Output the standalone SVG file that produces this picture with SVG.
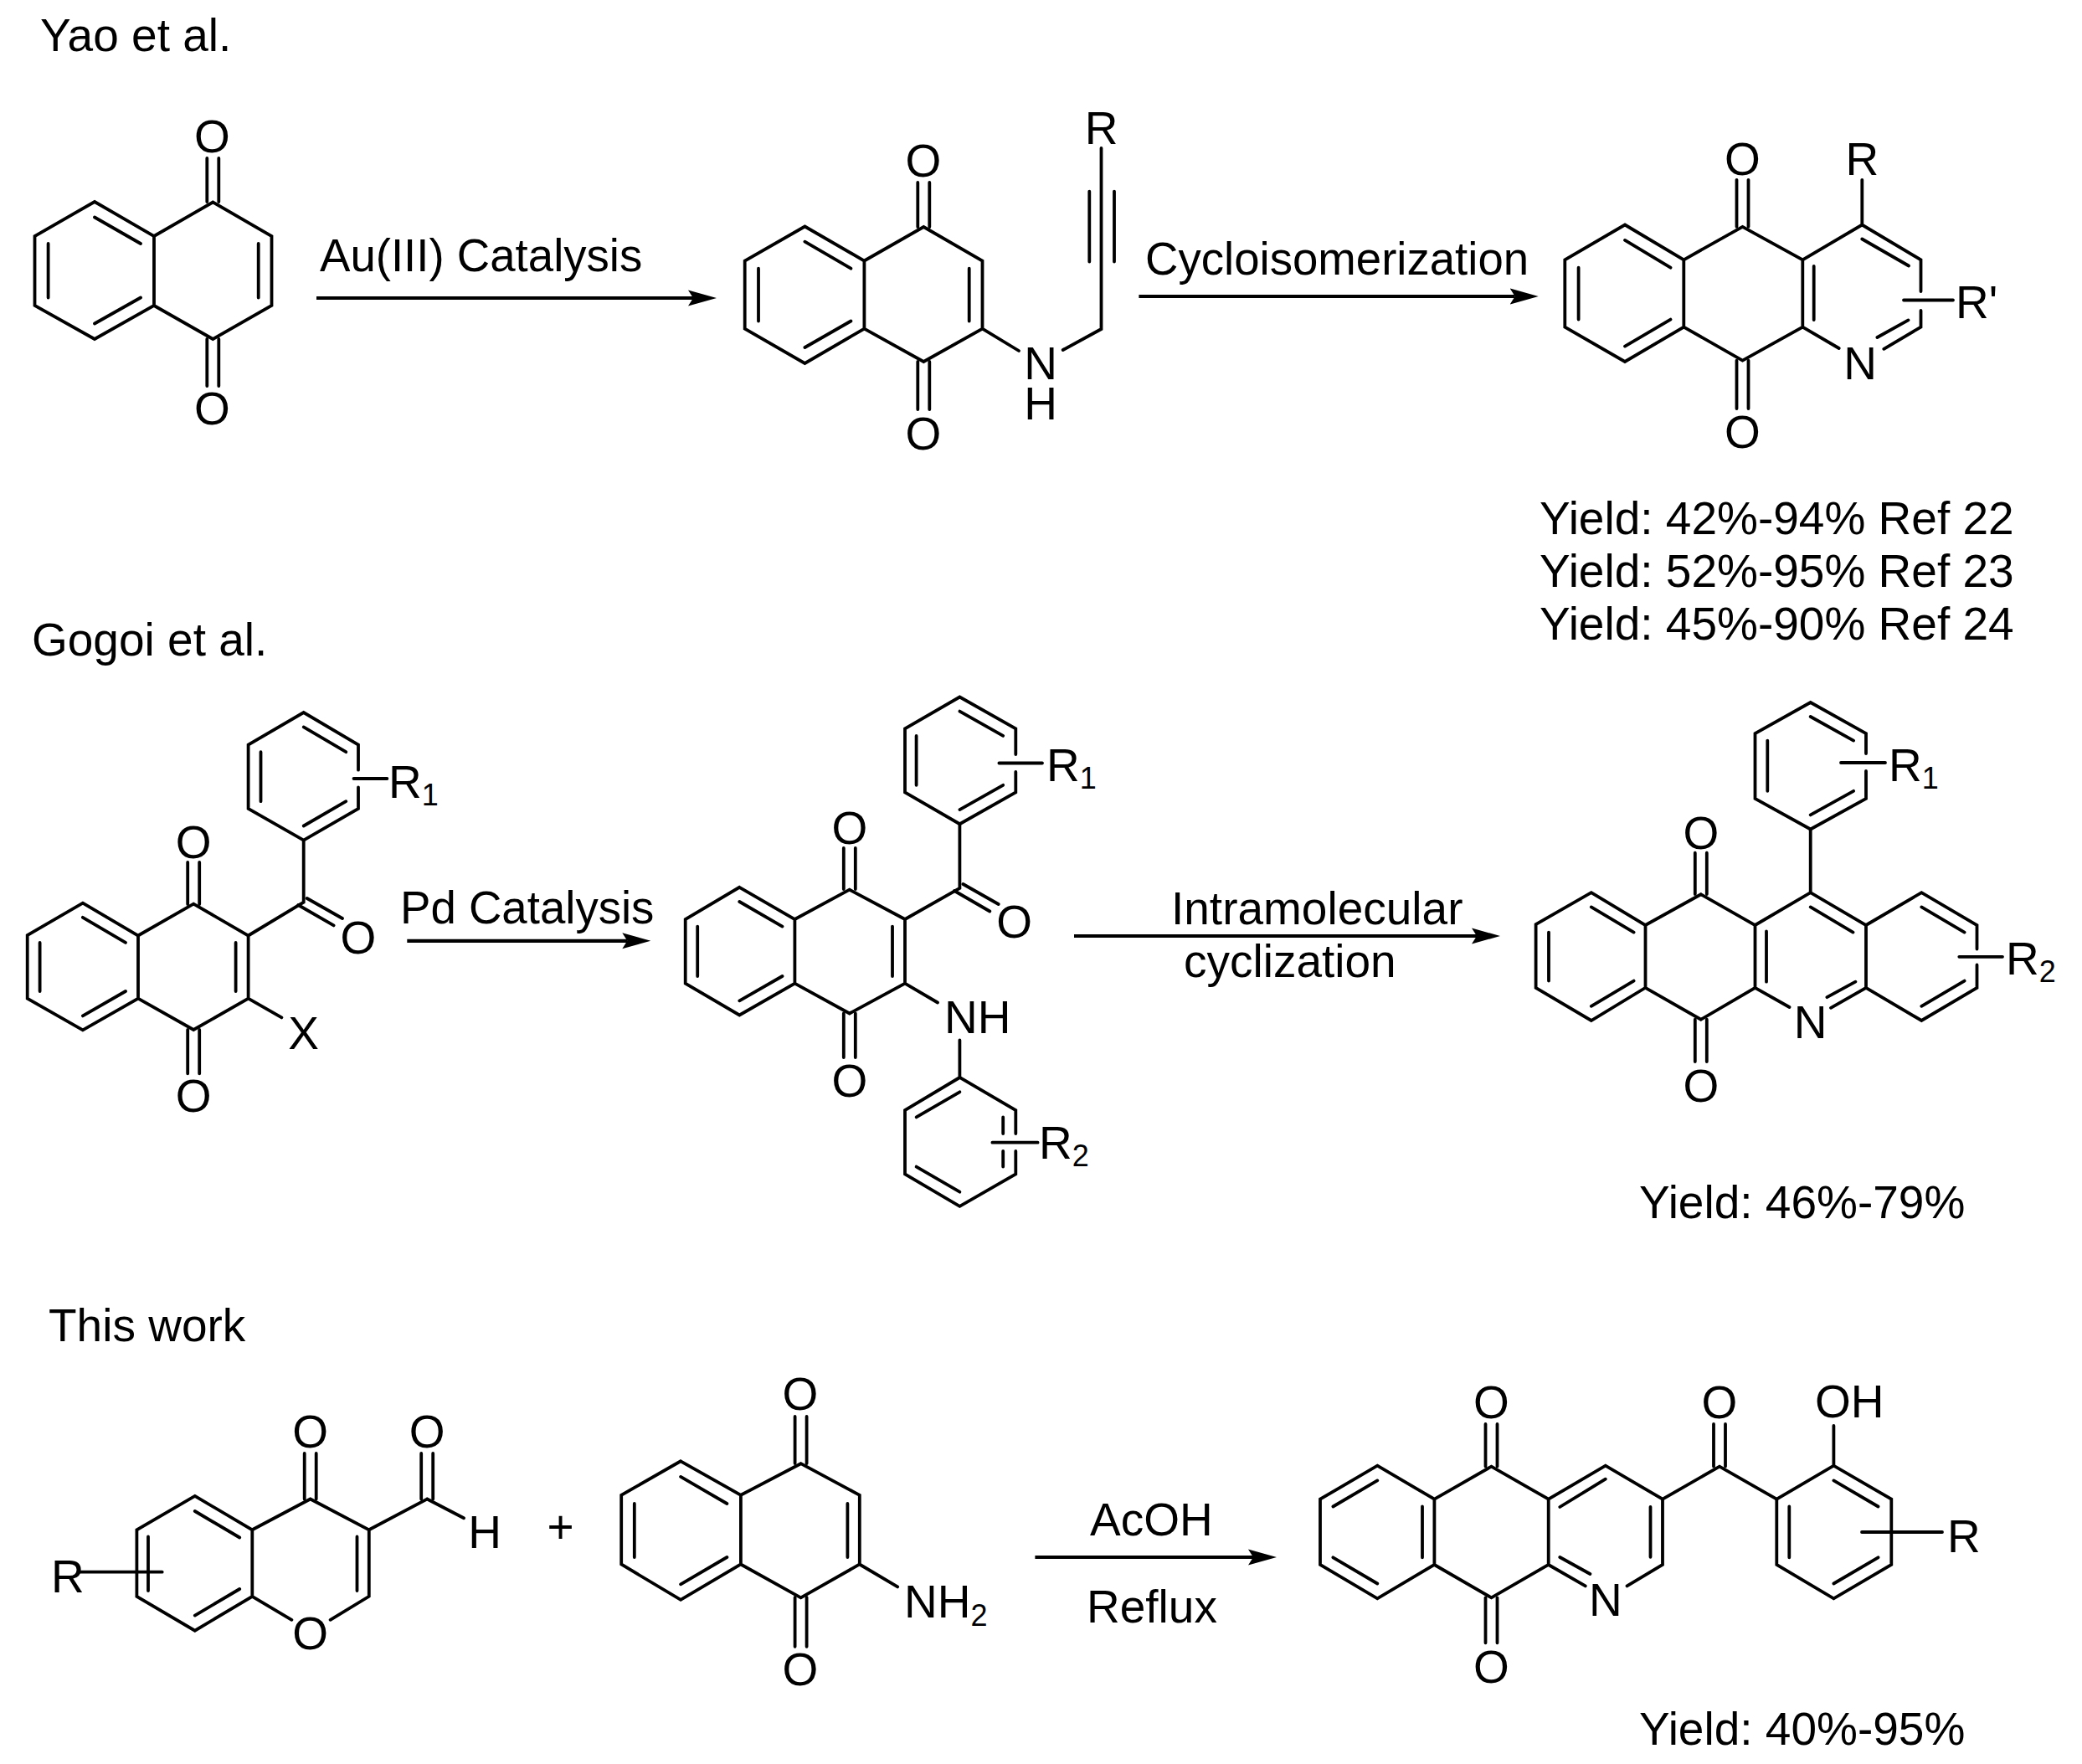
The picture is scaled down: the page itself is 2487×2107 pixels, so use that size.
<svg xmlns="http://www.w3.org/2000/svg" width="2487" height="2107" viewBox="0 0 2487 2107">
<style>
text{font-family:"Liberation Sans",Arial,sans-serif;font-size:55px;fill:#000}
.c{text-anchor:middle}
.s{font-size:36px}
.n{font-size:54.600px}
.b{fill:none;stroke:#000;stroke-width:3.8;stroke-linejoin:miter;stroke-linecap:round}
.a{fill:none;stroke:#000;stroke-width:4.2}
</style>
<defs>
<marker id="head" markerUnits="userSpaceOnUse" markerWidth="40" markerHeight="24" viewBox="0 -12 40 24" refX="6" refY="0" orient="auto"><path d="M0-9.5L34 0L0 9.5L6 0Z" fill="#000"/></marker>
</defs>
<rect width="2487" height="2107" fill="#fff"/>

<g id="section-labels">
<text x="48" y="60.600">Yao et al.</text>
<text x="38" y="783">Gogoi et al.</text>
<text x="58" y="1601.800">This work</text>
</g>

<g id="connectors">
<path class="a" d="M378 356H828" marker-end="url(#head)"/>
<path class="a" d="M1360.400 354H1809.700" marker-end="url(#head)"/>
<path class="a" d="M486.300 1123.800H749.300" marker-end="url(#head)"/>
<path class="a" d="M1283 1118H1764" marker-end="url(#head)"/>
<path class="a" d="M1236.400 1860H1497" marker-end="url(#head)"/>
</g>

<g id="arrow-labels">
<text class="n" x="382" y="324">Au(III) Catalysis</text>
<text class="n" x="1368" y="328.200">Cycloisomerization</text>
<text class="n" x="478" y="1103">Pd Catalysis</text>
<text x="1399" y="1104">Intramolecular</text>
<text x="1414" y="1167">cyclization</text>
<text x="1302" y="1834.300">AcOH</text>
<text x="1298" y="1938">Reflux</text>
<text x="669.600" y="1843" class="c">+</text>
</g>

<g id="naphthoquinone-1">
<path class="b" d="M113 241L184 282V365L113 405L41.500 365V282ZM184 282L254.300 241.500L324.500 282V365L254.300 405L184 365"/>
<path class="b" d="M113 259.500L168 291M168 355.500L113 386.500M57.600 355.500V291M308.700 291V355.500"/>
<path class="b" d="M247.300 189V241M261.300 189V241M247.300 405V461M261.300 405V461"/>
<text class="c" x="253.500" y="182">O</text>
<text class="c" x="253.500" y="507">O</text>
</g>

<g id="propargylamine">
<path class="b" d="M961.400 270.500L1032.400 311.500V392.600L961.400 434L889.700 392.600V311.500ZM1032.400 311.500L1103.300 271L1173.500 311.500V392.600L1103.300 432L1032.400 392.600M1173.500 392.600L1217 419"/>
<path class="b" d="M961.400 288.700L1016.400 320.700M1016.400 383.500L961.400 415M906 383.500V320.700M1157.700 320.700V383.500"/>
<path class="b" d="M1096.300 218V271M1110.300 218V271M1096.300 432V489M1110.300 432V489"/>
<path class="b" d="M1269.700 418L1315.500 393V177M1301.300 228.600V312.600M1331 228.600V312.600"/>
<text class="c" x="1103" y="211">O</text>
<text class="c" x="1103" y="536.500">O</text>
<text class="c"><tspan x="1243" y="453">N</tspan><tspan x="1243" y="501">H</tspan></text>
<text class="c" x="1315.500" y="172">R</text>
</g>

<g id="quinoline-product-1">
<path class="b" d="M1941 268.500L2011.300 310.300V390.600L1941 432L1869.300 390.600V310.300ZM2011.300 310.300L2081.500 270.800L2153.300 310.300V390.600L2081.500 430.600L2011.300 390.600M2153.300 310.300L2224.300 268.500L2294.500 310.300V348M2294.500 371V390.600L2250.300 416.800M2153.300 390.600L2196.700 416M2224.300 268.500V214.800"/>
<path class="b" d="M1941 286.900L1995.500 319.700M1995.500 381.600L1941 413.600M1885.600 381.600V319.700M2166.700 318V382M2224.300 285.500L2280 317.500M2279.500 382.400L2242.400 403"/>
<path class="b" d="M2074.500 214.800V270.800M2088.500 214.800V270.800M2074.500 430.600V488M2088.500 430.600V488M2274 358.500H2333"/>
<text class="c" x="2081.500" y="208.500">O</text>
<text class="c" x="2081.500" y="534.500">O</text>
<text class="c" x="2224.300" y="208.500">R</text>
<text class="c" x="2222" y="453">N</text>
<text x="2336" y="380">R'</text>
</g>

<g id="yields-1">
<text x="1839" y="638">Yield: 42%-94% Ref 22</text>
<text x="1839" y="700.500">Yield: 52%-95% Ref 23</text>
<text x="1839" y="763.500">Yield: 45%-90% Ref 24</text>
</g>

<g id="halo-quinone">
<path class="b" d="M98.900 1078.700L165 1117.500V1192.600L98.900 1230.400L32.700 1192.600V1117ZM165 1117.500L231.200 1079.700L296.600 1117.500V1192.600L231.200 1230L165 1192.600M296.600 1192.600L336.400 1215.400M296.600 1117.500L362.700 1077.700V1003.600"/>
<path class="b" d="M98.900 1095.800L150 1125.900M150 1184L98.900 1213.400M47.600 1184V1125.900M281.600 1125.900V1184"/>
<path class="b" d="M224.200 1030V1080M238.200 1030V1080M224.200 1230V1282.300M238.200 1230V1282.300M366.700 1073L409 1097M356.300 1081L398.600 1105.400"/>
<path class="b" d="M428 919.700V889.700L362.700 851L296.600 889.700V965.800L362.700 1003.600L428 965.800V940.500"/>
<path class="b" d="M362.700 986.500L413.300 957.200M413.300 898.200L362.700 868.400M311.500 898.200V957.200M422.500 930H462.400"/>
<text class="c" x="231.200" y="1025">O</text>
<text class="c" x="231.200" y="1328.400">O</text>
<text class="c" x="428" y="1139">O</text>
<text class="c" x="362.700" y="1253">X</text>
<text x="464" y="952.700">R<tspan class="s" dy="9">1</tspan></text>
</g>

<g id="anilino-quinone">
<path class="b" d="M883.300 1059.800L949.400 1098V1174.700L883.300 1212.500L818.700 1174.700V1098ZM949.400 1098L1014.800 1062.700L1081 1098V1174.700L1014.800 1210.500L949.400 1174.700M1081 1174.700L1120 1197.500M1081 1098L1146.400 1060.800V984.200"/>
<path class="b" d="M883.300 1077L934.500 1106.600M934.500 1166L883.300 1195.300M833.200 1166V1106.600M1066 1106.600V1166"/>
<path class="b" d="M1007.800 1013V1062M1021.800 1013V1062M1007.800 1210.500V1263M1021.800 1210.500V1263M1150.400 1056L1192.700 1080M1140 1064L1182.300 1088.500"/>
<path class="b" d="M1213.300 901V870.300L1146.400 832.500L1081 870.300V946.400L1146.400 984.200L1213.300 946.400V922"/>
<path class="b" d="M1146.400 967.100L1198.200 937.800M1198.200 878.900L1146.400 849.600M1094.600 878.900V937.800M1193.400 911.500H1245"/>
<path class="b" d="M1146.400 1242.500V1287L1213.300 1326V1354M1213.300 1375V1402.500L1146.400 1440.800L1081 1402.500V1326L1146.400 1287"/>
<path class="b" d="M1146.400 1304.300L1094.600 1334.400M1094.600 1393.600L1146.400 1423.700M1198.200 1334.400V1354M1198.200 1375V1393.600M1185.400 1364.700H1239.600"/>
<text class="c" x="1014.800" y="1008">O</text>
<text class="c" x="1014.800" y="1309.500">O</text>
<text class="c" x="1211.700" y="1119.500">O</text>
<text x="1128" y="1233.800">NH</text>
<text x="1250" y="932.800">R<tspan class="s" dy="9">1</tspan></text>
<text x="1241" y="1384">R<tspan class="s" dy="9">2</tspan></text>
</g>

<g id="acridine-product">
<path class="b" d="M1900.800 1066.200L1965.500 1105V1179.800L1900.800 1219L1834.600 1179.800V1104ZM1965.500 1105L2031.800 1068.300L2096.500 1105V1179.800L2031.800 1217.700L1965.500 1179.800M2096.500 1105L2162.700 1066.200L2229 1105V1179.800L2187 1203.800M2096.500 1179.800L2137.500 1203M2229 1105L2295.300 1066.200L2361.500 1105V1133.500M2361.500 1152.500V1179.800L2295.300 1219L2229 1179.800M2162.700 1066.200V990.500"/>
<path class="b" d="M1900.800 1083.400L1951.600 1113.600M1951.600 1171.600L1900.800 1201.800M1850 1171.600V1113.600M2110 1112.500V1172.700M2162.700 1083.400L2213.500 1113.600M2182.400 1191.200L2216.400 1172.700M2295.300 1083.400L2346.600 1113.600M2346.600 1171.600L2295.300 1201.800"/>
<path class="b" d="M2024.800 1018.700V1068M2038.800 1018.700V1068M2024.800 1217.700V1268M2038.800 1217.700V1268"/>
<path class="b" d="M2229 900V876L2162.700 839L2096.500 876V953.800L2162.700 990.500L2229 953.800V921"/>
<path class="b" d="M2162.700 973.400L2214.100 944.800M2214.100 884.600L2162.700 856M2111.300 884.600V944.800M2199 911H2252M2340.300 1142.800H2392"/>
<text class="c" x="2031.800" y="1013.700">O</text>
<text class="c" x="2031.800" y="1316">O</text>
<text class="c" x="2162.700" y="1240">N</text>
<text x="2256" y="932.800">R<tspan class="s" dy="9">1</tspan></text>
<text x="2396" y="1164.300">R<tspan class="s" dy="9">2</tspan></text>
<text x="1958" y="1454.700">Yield: 46%-79%</text>
</g>

<g id="chromone">
<path class="b" d="M232.800 1786.900L301.300 1827.300V1906.800L232.800 1947.700L163.400 1906.800V1827.300ZM301.300 1827.300L370.700 1790.500L440.800 1827.300V1906.800L394.600 1934.800M301.300 1906.800L348.400 1934.800M440.800 1827.300L510.200 1790.500L554 1813.300"/>
<path class="b" d="M232.800 1805L286.200 1836.500M286.200 1898L232.800 1929.600M177 1835.400V1900M426.500 1835.400V1900M94 1877.700H193.700"/>
<path class="b" d="M363.700 1736V1790.500M377.700 1736V1790.500M503.200 1736V1790.500M517.200 1736V1790.500"/>
<text class="c" x="370.700" y="1729.300">O</text>
<text class="c" x="510.200" y="1729.300">O</text>
<text class="c" x="370.700" y="1969.600">O</text>
<text class="c" x="579" y="1849.400">H</text>
<text x="61" y="1902.400">R</text>
</g>

<g id="aminonaphthoquinone">
<path class="b" d="M813.100 1745.300L884.900 1785.800V1868.500L813.100 1910.900L742.200 1868.500V1785.800ZM884.900 1785.800L956.600 1748.200L1026.800 1785.800V1868.500L956.600 1908.300L884.900 1868.500M1026.800 1868.500L1072.200 1895.400"/>
<path class="b" d="M813.100 1763.900L868.400 1796M868.400 1860L813.100 1892.300M757.800 1860V1796M1012.400 1796V1860"/>
<path class="b" d="M949.600 1692V1748M963.600 1692V1748M949.600 1908V1966.800M963.600 1908V1966.800"/>
<text class="c" x="956" y="1684.400">O</text>
<text class="c" x="956" y="2013.400">O</text>
<text x="1080" y="1931.800">NH<tspan class="s" dy="10">2</tspan></text>
</g>

<g id="azaanthraquinone-product">
<path class="b" d="M1645.300 1750.600L1713.400 1790.700V1869L1645.300 1909.300L1577 1869V1790.700ZM1713.400 1790.700L1781.500 1751.600L1849.700 1790.700V1869L1781.500 1908.300L1713.400 1869M1849.700 1790.700L1917.800 1750.600L1986 1790.700V1869L1943.500 1894.400M1849.700 1869L1893.800 1894.400M1986 1790.700L2054 1751.600L2122.300 1790.700"/>
<path class="b" d="M1645.300 1768.400L1592.400 1799.500M1592.400 1860.300L1645.300 1891.500M1699 1799.500V1860.300M1917.800 1766.700L1863.300 1800M1971.500 1800V1859.800M1863.300 1860L1899.400 1880"/>
<path class="b" d="M2122.300 1790.700L2190.400 1750.600L2259.300 1790.700V1869L2190.400 1909.300L2122.300 1869ZM2190.400 1750.600V1703"/>
<path class="b" d="M2190.400 1768.400L2243.500 1799.500M2243.500 1860.300L2190.400 1891.500M2137.300 1860.300V1799.500M2224 1830H2320"/>
<path class="b" d="M1774.500 1701V1751.600M1788.500 1701V1751.600M1774.500 1908.300V1962.300M1788.500 1908.300V1962.300M2047 1701V1751.600M2061 1701V1751.600"/>
<text class="c" x="1781.500" y="1693.600">O</text>
<text class="c" x="1781.500" y="2009.600">O</text>
<text class="c" x="2054" y="1693.600">O</text>
<text class="c" x="1917.800" y="1930">N</text>
<text x="2168" y="1693.300">OH</text>
<text x="2326" y="1854">R</text>
<text x="1958" y="2084">Yield: 40%-95%</text>
</g>
</svg>
